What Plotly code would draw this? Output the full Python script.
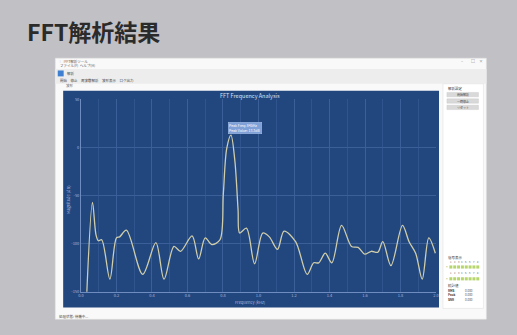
import plotly.graph_objects as go

# ---------------- data ----------------
freq_khz = [0.030, 0.065, 0.085, 0.098, 0.117, 0.163, 0.200, 0.218, 0.256, 0.348, 0.422, 0.468,
            0.524, 0.561, 0.626, 0.663, 0.700, 0.737, 0.783, 0.802, 0.821, 0.845, 0.867, 0.885,
            0.894, 0.932, 0.978, 1.024, 1.061, 1.107, 1.144, 1.209, 1.274, 1.311, 1.339, 1.376,
            1.413, 1.468, 1.524, 1.561, 1.598, 1.635, 1.672, 1.700, 1.746, 1.811, 1.848, 1.885,
            1.922, 1.959, 1.996]
magnitude_db = [-165, -57, -91, -97, -96, -137, -94, -93, -86, -132, -99, -137,
                -103, -108, -92, -116, -94, -101, -96, -48, -1, 13, -14, -65,
                -89, -84, -121, -89, -93, -106, -87, -98, -132, -120, -120, -110,
                -120, -81, -103, -104, -111, -108, -109, -98, -123, -81, -98, -110,
                -137, -94, -110]
x_ticks = [0.0, 0.2, 0.4, 0.6, 0.8, 1.0, 1.2, 1.4, 1.6, 1.8, 2.0]
y_ticks = [-150, -100, -50, 0, 50]
peak_freq = 0.845
peak_val = 13.3

chart_title = "FFT Frequency Analysis"
x_title = "Frequency (kHz)"
y_title = "Magnitude (dB)"
card_title = "FFT解析結果"

W, H = 517, 335
FONT = "Noto Sans CJK JP, Noto Sans, sans-serif"


def fx(x):
    return x / W


def fy(y):
    return 1 - y / H


shapes = []
annotations = []


def rect(x0, y0, x1, y1, fill, line=None, lw=0):
    shapes.append(dict(type="rect", xref="paper", yref="paper", layer="below",
                       x0=fx(x0), x1=fx(x1), y0=fy(y1), y1=fy(y0),
                       fillcolor=fill, line=dict(color=line or fill, width=lw)))


def text(x, y, s, size=4, color="#444", anchor="left", bold=False):
    if bold:
        s = "<b>" + s + "</b>"
    annotations.append(dict(xref="paper", yref="paper", x=fx(x), y=fy(y), text=s,
                            showarrow=False, xanchor=anchor, yanchor="middle",
                            font=dict(size=size, color=color, family=FONT)))


# window
rect(53, 56, 490, 321, "#f9f9f9", "#e2e2e2", 0.5)
# toolbar band
rect(53, 67, 490, 82, "#ededed")
# blue chart panel
rect(61, 89, 442, 309, "#22477f")
# right panel
rect(446, 82, 487, 310, "#ffffff", "#dddddd", 0.5)

# title bar / menu
text(56, 59, "▢ FFT解析ツール", 3.5, "#555")
text(56, 63.5, "ファイル(F)  ヘルプ(H)", 3.5, "#555")
text(465, 59, "–", 4, "#777", "center")
text(476, 59, "□", 4, "#777", "center")
text(485, 59, "×", 4, "#777", "center")
# toolbar icon
rect(55.5, 68.5, 61.5, 74.5, "#3f7fd2")
text(63, 71.5, "解析", 3.5, "#444")
# tabs row
text(56, 78.5, "開始　停止　周波数解析　波形表示　ログ出力", 3.5, "#444")
text(62, 84, "波形", 3.5, "#666")

# right panel items
text(449, 87, "解析設定", 3.5, "#333")
for yy, lab in [(93, "開始解析"), (99.5, "一時停止"), (106, "リセット")]:
    rect(450, yy - 2.2, 482, yy + 2.2, "#d9d9d9", "#c8c8c8", 0.4)
    text(466, yy, lab, 3, "#444", "center")

text(449, 258, "信号表示", 3.5, "#333")
for row_y, grn_y in [(263, 268), (274, 280)]:
    for i in range(8):
        cx = 454 + i * 3.9
        text(cx, row_y, str(i + 1), 2.6, "#666", "center")
        rect(cx - 1.5, grn_y - 1.6, cx + 1.5, grn_y + 1.6, "#b6d66c")
    text(450, grn_y, "+", 3, "#6a8f2a", "center")
text(449, 287, "統計値", 3.5, "#333")
for yy, k in [(292, "RMS"), (296.5, "Peak"), (301, "SNR")]:
    text(449, yy, k, 3, "#333", bold=True)
    text(466, yy, "0.000", 3, "#555")

# status bar
text(55, 318, "処理状態: 待機中...", 3.5, "#444")

# card title
text(22, 28, card_title, 23, "#2b2b2b", bold=True)

# chart title / axes titles
text(250, 94.5, chart_title, 5.5, "#d8e2f4", "center")
text(250, 304, x_title, 4, "#a9b6de", "center")
annotations.append(dict(xref="paper", yref="paper", x=fx(66), y=fy(200), text=y_title,
                        showarrow=False, textangle=-90, xanchor="center", yanchor="middle",
                        font=dict(size=4, color="#a9b6de", family=FONT)))

# peak annotation
annotations.append(dict(xref="x", yref="y", x=peak_freq, y=peak_val,
                        text=f"Peak Freq: {peak_freq*1000:.0f}Hz<br>Peak Value: {peak_val:.1f}dB",
                        showarrow=False, xanchor="left", yanchor="bottom", xshift=-3, yshift=1,
                        align="left", bgcolor="#7fa1d8", bordercolor="#a9c2ea", borderwidth=0.5,
                        borderpad=0.6, font=dict(size=3.5, color="#ffffff", family=FONT)))

fig = go.Figure()
fig.add_trace(go.Scatter(x=freq_khz, y=magnitude_db, mode="lines",
                         line=dict(color="#cfcdaa", width=1.3, shape="spline", smoothing=0.9),
                         hoverinfo="skip", showlegend=False))

fig.update_layout(
    width=W, height=H,
    margin=dict(l=0, r=0, t=0, b=0),
    paper_bgcolor="#c1c0c4",
    plot_bgcolor="#22477f",
    shapes=shapes,
    annotations=annotations,
    showlegend=False,
    xaxis=dict(domain=[fx(79), fx(439)], range=[0, 2.0], tickvals=x_ticks,
               ticktext=[f"{v:.1f}" for v in x_ticks],
               tickfont=dict(size=4, color="#a9b6de", family=FONT),
               showgrid=True, gridcolor="#3b5f98", gridwidth=0.6,
               minor=dict(dtick=0.1, showgrid=True, gridcolor="#30558e", gridwidth=0.5),
               zeroline=False, showline=True, linecolor="#6f8cc0", linewidth=0.6,
               ticks="", ticklen=0, fixedrange=True),
    yaxis=dict(domain=[fy(293), fy(97)], range=[-150, 51], tickvals=y_ticks,
               ticktext=[str(v) for v in y_ticks],
               tickfont=dict(size=4, color="#a9b6de", family=FONT),
               showgrid=True, gridcolor="#3b5f98", gridwidth=0.6,
               zeroline=False, showline=True, linecolor="#6f8cc0", linewidth=0.6,
               ticks="", ticklen=0, fixedrange=True),
)

fig.write_html("out.html")
